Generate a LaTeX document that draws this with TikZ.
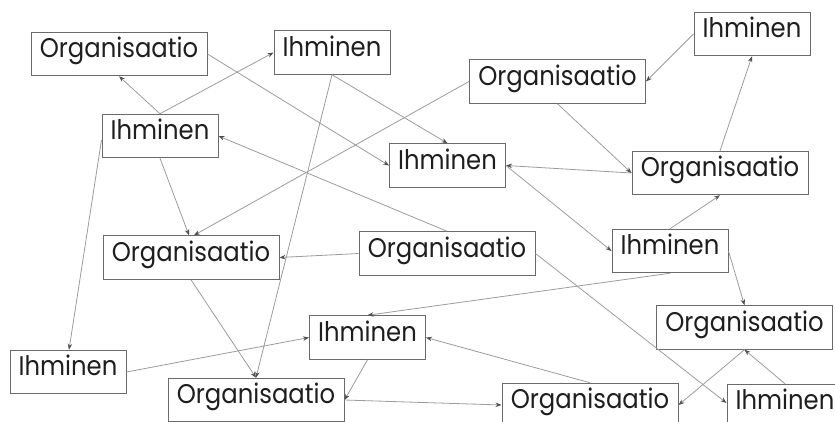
\documentclass[tikz,border=0pt]{standalone}
\usepackage{fontspec}
\setmainfont{Poppins}[FakeStretch=0.9]
\usetikzlibrary{arrows.meta}

\definecolor{boxline}{HTML}{6A6A6A}
\definecolor{linkline}{HTML}{9C9C9C}
\definecolor{tipcol}{HTML}{505050}
\definecolor{labeltext}{HTML}{1E1E1E}

\tikzset{
  entity/.style={draw=boxline, line width=1pt, fill=white, inner sep=0pt,
    minimum height=43.5pt, text height=0.7em, text depth=0pt,
    text=labeltext, font=\fontsize{27}{30}\selectfont},
  orgbox/.style={entity, minimum width=176pt},
  personbox/.style={entity, minimum width=116pt},
  link/.style={draw=linkline, line width=0.8pt,
    -{Stealth[length=6pt,width=4.5pt,color=tipcol]}}
}

\begin{document}
\begin{tikzpicture}[x=1pt,y=-1pt]
  \clip (0,0) rectangle (835,421);
  \fill[white] (0,0) rectangle (835,421);

  % organisations
  \node[orgbox] (org1) at (119,54) {Organisaatio};
  \node[orgbox] (org2) at (557.5,81.5) {Organisaatio};
  \node[orgbox] (org3) at (720,173) {Organisaatio};
  \node[orgbox] (org4) at (191,257.5) {Organisaatio};
  \node[orgbox] (org5) at (447,253.5) {Organisaatio};
  \node[orgbox] (org6) at (256,400) {Organisaatio};
  \node[orgbox] (org7) at (744.5,327.5) {Organisaatio};
  \node[orgbox] (org8) at (590,405) {Organisaatio};

  % people
  \node[personbox] (ih1) at (332,52.5) {Ihminen};
  \node[personbox] (ih2) at (160,136) {Ihminen};
  \node[personbox] (ih3) at (447.5,165.5) {Ihminen};
  \node[personbox] (ih4) at (752,34) {Ihminen};
  \node[personbox] (ih5) at (68,372) {Ihminen};
  \node[personbox] (ih6) at (367.5,337.5) {Ihminen};
  \node[personbox] (ih7) at (670,251) {Ihminen};
  \node[personbox] (ih8) at (785,406) {Ihminen};

  % relations
  \draw[link] (ih2.north) -- (org1.south);
  \draw[link] (ih2.north) -- (ih1.west);
  \draw[link] (org1.east) -- (ih3.west);
  \draw[link] (ih1.south) -- (ih3.north);
  \draw[link] (ih1.south) -- (org6.north);
  \draw[link] (org2.west) -- ([xshift=3pt]org4.north);
  \draw[link] (ih2.south) -- ([xshift=-2pt]org4.north);
  \draw[link] ([yshift=-4pt]ih2.west) -- ([xshift=1pt]ih5.north);
  \draw[link] (org5.north) -- (ih2.east);
  \draw[link] (org5.west) -- (org4.east);
  \draw[link] (org5.east) -- ([yshift=3pt]ih8.west);
  \draw[link] (org3.west) -- (ih3.east);
  \draw[link] (org2.south) -- (org3.west);
  \draw[link] (ih3.east) -- (ih7.west);
  \draw[link] (ih7.north) -- (org3.south);
  \draw[link] (org3.north) -- (ih4.south);
  \draw[link] (ih4.west) -- (org2.east);
  \draw[link] (ih7.east) -- (org7.north);
  \draw[link] (ih7.south) -- (ih6.north);
  \draw[link] (ih5.east) -- (ih6.west);
  \draw[link] (org4.south) -- (org6.north);
  \draw[link] (ih6.south) -- (org6.east);
  \draw[link] (org6.east) -- (org8.west);
  \draw[link] (org8.north) -- (ih6.east);
  \draw[link] (org7.south) -- (org8.east);
  \draw[link] (ih8.north) -- (org7.south);
\end{tikzpicture}
\end{document}
